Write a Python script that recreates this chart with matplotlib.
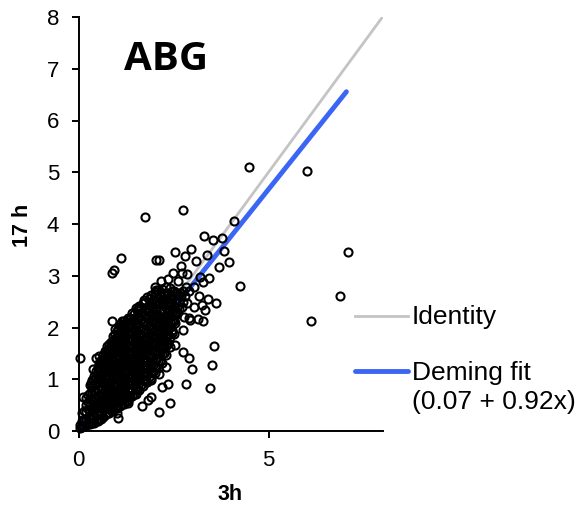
import matplotlib
matplotlib.use('Agg')
import matplotlib.pyplot as plt
from matplotlib.lines import Line2D

plt.rcParams['font.family'] = ['Liberation Sans', 'DejaVu Sans']

W, H = 579, 509

# points outside the solid part of the cloud
outlier_x = [4.49, 6.02, 7.09, 6.88, 6.11, 1.76, 2.75, 4.09, 3.30, 3.54, 3.77, 2.55, 2.97, 2.80, 3.39,
             3.82, 3.09, 3.97, 3.70, 1.12, 2.03, 2.11, 0.93, 0.89, 4.24, 2.69, 2.49, 2.35, 2.18, 2.73,
             2.86, 3.21, 3.43, 3.27, 3.05, 2.61, 2.00, 3.18, 3.40, 3.61, 3.03, 3.32, 3.25, 2.93, 3.14,
             3.28, 2.74, 3.57, 3.52, 2.98, 2.91, 2.74, 2.84, 3.47, 2.36, 2.19, 2.42, 2.11, 0.03, 0.12,
             0.37, 0.89, 0.95, 1.15, 1.09, 0.53, 0.47, 0.89, 0.32, 1.04, 1.02, 1.66, 1.82, 1.92, 1.30,
             2.55]
outlier_y = [5.11, 5.03, 3.46, 2.61, 2.13, 4.14, 4.27, 4.06, 3.77, 3.70, 3.73, 3.46, 3.52, 3.39, 3.41,
             3.48, 3.28, 3.26, 3.16, 3.34, 3.30, 3.30, 3.12, 3.06, 2.80, 3.19, 3.05, 2.93, 2.89, 3.05,
             3.03, 2.97, 2.95, 2.87, 2.78, 2.89, 2.78, 2.60, 2.56, 2.48, 2.40, 2.34, 2.43, 2.14, 2.16,
             2.13, 1.95, 1.64, 1.28, 1.19, 1.42, 1.52, 0.90, 0.84, 0.91, 0.85, 0.54, 0.37, 1.42, 0.65,
             1.19, 2.13, 1.98, 2.13, 2.07, 1.44, 1.42, 1.71, 0.92, 0.25, 0.35, 0.49, 0.60, 0.65, 0.54,
             1.66]

# rings on the upper right edge of the cloud
fringe_x = [2.68, 2.82, 2.55, 2.42, 2.25, 2.86, 2.73, 2.60, 2.51, 2.77, 2.90, 2.55, 2.46, 2.33, 2.25, 2.29, 1.90, 2.11,
            1.72, 2.03, 1.59, 1.32, 0.75, 2.50, 2.55, 2.65, 2.70, 2.60, 2.75, 2.60, 2.45, 2.40, 2.35, 2.50, 2.65, 2.30,
            2.55, 2.40, 2.50, 2.35, 2.45, 2.20, 2.30, 2.35, 2.25, 2.20, 2.30, 2.20, 2.15, 2.75, 2.80, 2.90]
fringe_y = [2.66, 2.79, 2.66, 2.60, 2.66, 2.47, 2.40, 2.27, 2.14, 2.21, 2.18, 2.08, 1.89, 1.69, 1.50, 1.24, 0.99, 1.11,
            2.53, 2.72, 2.37, 2.14, 1.53, 2.40, 2.50, 2.50, 2.60, 2.55, 2.70, 2.40, 2.30, 2.10, 1.95, 2.25, 2.35, 2.10,
            2.30, 2.50, 2.60, 2.65, 2.70, 2.55, 2.45, 2.30, 2.00, 1.85, 1.85, 1.60, 1.75, 2.50, 2.60, 2.70]

# solid part of the cloud, estimated column by column
cloud_columns = [0.05, 0.10, 0.15, 0.20, 0.25, 0.30, 0.35, 0.40, 0.45, 0.50, 0.55, 0.60, 0.65, 0.70, 0.75, 0.80,
                 0.85, 0.90, 0.95, 1.00, 1.05, 1.10, 1.15, 1.20, 1.25, 1.30, 1.35, 1.40, 1.45, 1.50, 1.55, 1.60,
                 1.65, 1.70, 1.75, 1.80, 1.85, 1.90, 1.95, 2.00, 2.05, 2.10, 2.15, 2.20, 2.25, 2.30, 2.35, 2.40,
                 2.45, 2.50, 2.60]
cloud_rows = [
    [0.05, 0.12],
    [0.08, 0.20, 0.34],
    [0.10, 0.22, 0.38],
    [0.12, 0.24, 0.36, 0.50, 0.64],
    [0.14, 0.28, 0.42, 0.56, 0.70],
    [0.14, 0.26, 0.38, 0.50, 0.62, 0.74, 0.88],
    [0.16, 0.30, 0.44, 0.58, 0.72, 0.86, 0.98],
    [0.16, 0.28, 0.40, 0.52, 0.64, 0.76, 0.90, 1.06],
    [0.20, 0.34, 0.48, 0.62, 0.76, 0.90, 1.04, 1.16],
    [0.20, 0.32, 0.44, 0.56, 0.68, 0.80, 0.92, 1.04, 1.14, 1.24],
    [0.24, 0.38, 0.52, 0.66, 0.80, 0.94, 1.08, 1.20, 1.32],
    [0.24, 0.36, 0.48, 0.60, 0.72, 0.84, 0.96, 1.08, 1.20, 1.30, 1.38],
    [0.28, 0.42, 0.56, 0.70, 0.84, 0.98, 1.12, 1.26, 1.38, 1.46],
    [0.30, 0.42, 0.54, 0.66, 0.78, 0.90, 1.02, 1.14, 1.26, 1.36, 1.46, 1.54],
    [0.34, 0.48, 0.62, 0.76, 0.90, 1.04, 1.18, 1.32, 1.44, 1.56, 1.64],
    [0.35, 0.47, 0.59, 0.71, 0.83, 0.95, 1.07, 1.19, 1.31, 1.41, 1.51, 1.60, 1.68],
    [0.40, 0.54, 0.68, 0.82, 0.96, 1.10, 1.24, 1.38, 1.50, 1.62, 1.72],
    [0.40, 0.52, 0.64, 0.76, 0.88, 1.00, 1.12, 1.24, 1.36, 1.48, 1.58, 1.68, 1.76, 1.84],
    [0.44, 0.58, 0.72, 0.86, 1.00, 1.14, 1.28, 1.42, 1.56, 1.68, 1.78, 1.88],
    [0.44, 0.56, 0.68, 0.80, 0.92, 1.04, 1.16, 1.28, 1.40, 1.52, 1.62, 1.72, 1.82, 1.94],
    [0.48, 0.62, 0.76, 0.90, 1.04, 1.18, 1.32, 1.46, 1.60, 1.74, 1.86, 1.98],
    [0.49, 0.61, 0.73, 0.85, 0.97, 1.09, 1.21, 1.33, 1.45, 1.57, 1.67, 1.77, 1.90, 2.03],
    [0.52, 0.66, 0.80, 0.94, 1.08, 1.22, 1.36, 1.50, 1.64, 1.78, 1.92, 2.04],
    [0.53, 0.65, 0.77, 0.89, 1.01, 1.13, 1.25, 1.37, 1.49, 1.61, 1.73, 1.85, 1.97, 2.12],
    [0.58, 0.72, 0.86, 1.00, 1.14, 1.28, 1.42, 1.56, 1.70, 1.84, 1.98, 2.10],
    [0.58, 0.70, 0.82, 0.94, 1.06, 1.18, 1.30, 1.42, 1.54, 1.66, 1.78, 1.90, 2.04, 2.18],
    [0.66, 0.80, 0.94, 1.08, 1.22, 1.36, 1.50, 1.64, 1.78, 1.92, 2.06, 2.18],
    [0.67, 0.79, 0.91, 1.03, 1.15, 1.27, 1.39, 1.51, 1.63, 1.75, 1.87, 1.99, 2.12, 2.28],
    [0.72, 0.86, 1.00, 1.14, 1.28, 1.42, 1.56, 1.70, 1.84, 1.98, 2.12, 2.26],
    [0.72, 0.84, 0.96, 1.08, 1.20, 1.32, 1.44, 1.56, 1.68, 1.80, 1.92, 2.04, 2.20, 2.38],
    [0.80, 0.94, 1.08, 1.22, 1.36, 1.50, 1.64, 1.78, 1.92, 2.06, 2.20, 2.34],
    [0.80, 0.92, 1.04, 1.16, 1.28, 1.40, 1.52, 1.64, 1.76, 1.88, 2.02, 2.20, 2.42],
    [0.88, 1.02, 1.16, 1.30, 1.44, 1.58, 1.72, 1.86, 2.00, 2.14, 2.28, 2.40],
    [0.87, 0.99, 1.11, 1.23, 1.35, 1.47, 1.59, 1.71, 1.83, 1.95, 2.08, 2.26, 2.48],
    [0.96, 1.10, 1.24, 1.38, 1.52, 1.66, 1.80, 1.94, 2.08, 2.22, 2.36, 2.50],
    [0.94, 1.08, 1.22, 1.36, 1.50, 1.64, 1.78, 1.92, 2.06, 2.20, 2.38, 2.58],
    [1.04, 1.18, 1.32, 1.46, 1.60, 1.74, 1.88, 2.02, 2.16, 2.30, 2.44, 2.56],
    [1.02, 1.16, 1.30, 1.44, 1.58, 1.72, 1.86, 2.00, 2.14, 2.28, 2.44, 2.62],
    [1.14, 1.28, 1.42, 1.56, 1.70, 1.84, 1.98, 2.12, 2.26, 2.40, 2.54],
    [1.12, 1.26, 1.40, 1.54, 1.68, 1.82, 1.96, 2.10, 2.26, 2.46, 2.68],
    [1.24, 1.38, 1.52, 1.66, 1.80, 1.94, 2.08, 2.22, 2.36, 2.50, 2.64],
    [1.22, 1.36, 1.50, 1.64, 1.78, 1.92, 2.06, 2.24, 2.46, 2.72],
    [1.36, 1.50, 1.64, 1.78, 1.92, 2.06, 2.20, 2.34, 2.48, 2.62],
    [1.32, 1.48, 1.64, 1.80, 1.96, 2.12, 2.30, 2.50, 2.74],
    [1.50, 1.64, 1.78, 1.92, 2.06, 2.20, 2.34, 2.48, 2.62],
    [1.47, 1.65, 1.83, 2.01, 2.19, 2.37, 2.56, 2.78],
    [1.70, 1.86, 2.02, 2.18, 2.34, 2.50, 2.66],
    [1.62, 1.82, 2.02, 2.24, 2.48, 2.76],
    [1.95, 2.15, 2.35, 2.55],
    [1.87, 2.12, 2.40, 2.70],
    [2.30, 2.66],
]

x_ticks = [0, 5]
y_ticks = [0, 1, 2, 3, 4, 5, 6, 7, 8]
identity_x = [0, 8]
deming_x = [0, 7.05]
deming_a, deming_b = 0.07, 0.92

grey = '#c4c4c4'
blue = '#3b66f5'

cloud_x = []
cloud_y = []
for col, row in zip(cloud_columns, cloud_rows):
    for v in row:
        cloud_x.append(col)
        cloud_y.append(v)

fig = plt.figure(figsize=(W / 100, H / 100), dpi=100)
ax = fig.add_axes([78.5 / W, 1 - 431 / H, 304 / W, 414 / H])

ax.plot(identity_x, identity_x, color=grey, lw=2, zorder=1, solid_capstyle='butt')
ax.plot(deming_x, [deming_a + deming_b * v for v in deming_x], color=blue, lw=3.5, zorder=2, solid_capstyle='round')
ax.plot(cloud_x + fringe_x + outlier_x, cloud_y + fringe_y + outlier_y, 'o', ms=5.8, mfc='none', mec='black', mew=1.5,
        zorder=3, clip_on=False)

ax.set_xlim(0, 8)
ax.set_ylim(0, 8)
ax.set_xticks(x_ticks)
ax.set_yticks(y_ticks)
ax.tick_params(labelsize=16, length=5, width=1.4, pad=9, color='black')
for s in ['top', 'right']:
    ax.spines[s].set_visible(False)
for s in ['left', 'bottom']:
    ax.spines[s].set_linewidth(1.4)

fig.text(230 / W, 1 - 495 / H, '3h', fontsize=15.5, fontweight='bold', ha='center', va='center')
fig.text(22 / W, 1 - 225.5 / H, '17 h', fontsize=15.5, fontweight='bold', rotation=90, ha='center', va='center')
fig.text(124 / W, 1 - 59 / H, 'ABG', fontsize=29, fontweight='bold', family='Open Sans', ha='left', va='center')

fig.add_artist(Line2D([355 / W, 408 / W], [1 - 316 / H] * 2, color=grey, lw=2))
fig.add_artist(Line2D([355 / W, 408 / W], [1 - 371 / H] * 2, color=blue, lw=3.5, solid_capstyle='round'))
fig.text(412 / W, 1 - 317 / H, 'Identity', fontsize=19, ha='left', va='center')
fig.text(412 / W, 1 - 373 / H, 'Deming fit', fontsize=19, ha='left', va='center')
fig.text(412 / W, 1 - 402 / H, '(0.07 + 0.92x)', fontsize=19, ha='left', va='center')

fig.savefig('out.png', dpi=100)
